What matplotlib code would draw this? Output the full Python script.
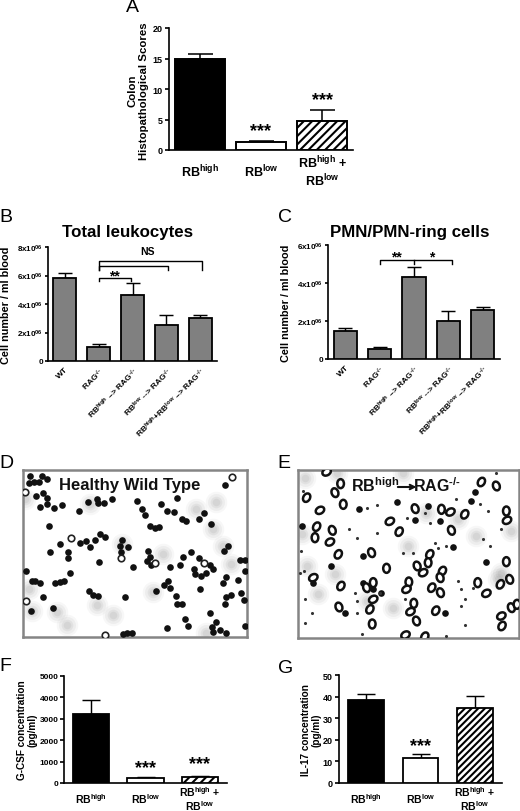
import matplotlib
matplotlib.use("Agg")
import matplotlib.pyplot as plt
from matplotlib.patches import Ellipse

plt.rcParams["font.family"] = ["Liberation Sans", "DejaVu Sans"]
plt.rcParams["font.weight"] = "bold"
plt.rcParams["mathtext.fontset"] = "custom"
plt.rcParams["mathtext.bf"] = "Liberation Sans:bold"
plt.rcParams["mathtext.rm"] = "Liberation Sans:bold"
plt.rcParams["mathtext.default"] = "bf"
plt.rcParams["hatch.linewidth"] = 1.5

W, H = 520, 812

# bar values
scores = [14.9, 1.3, 4.8]
scores_err = [0.8, 0.2, 1.8]
leuko = [5.85e6, 1.0e6, 4.65e6, 2.55e6, 3.03e6]
leuko_err = [0.3e6, 0.2e6, 0.8e6, 0.65e6, 0.17e6]
pmn = [1.5e6, 0.55e6, 4.3e6, 2.0e6, 2.6e6]
pmn_err = [0.12e6, 0.07e6, 0.52e6, 0.52e6, 0.15e6]
gcsf = [3230, 240, 300]
gcsf_err = [670, 30, 50]
il17 = [38.2, 11.5, 34.8]
il17_err = [2.8, 1.7, 5.5]

group_labels = ["RB$^{high}$", "RB$^{low}$", "RB$^{high}$ +\nRB$^{low}$"]
transfer_labels = ["WT", "RAG$^{\u2010/\u2010}$", "RB$^{high}$ --> RAG$^{\u2010/\u2010}$",
                   "RB$^{low}$ --> RAG$^{\u2010/\u2010}$",
                   "RB$^{high}$+RB$^{low}$ --> RAG$^{\u2010/\u2010}$"]
cell_ticks = [0, 2e6, 4e6, 6e6, 8e6]
cell_ticklabels = ["0", "2x10$^{06}$", "4x10$^{06}$", "6x10$^{06}$", "8x10$^{06}$"]

# micrograph marks, in the crop units of the picture
d_dots = [(90,80),(85,100),(100,97),(115,97),(125,80),(140,88),(108,140),(127,132),(140,145),
          (140,165),(120,175),(160,178),(185,168),(235,185),(265,158),(290,150),(295,162),(312,162),
          (336,150),(410,156),(425,180),(435,197),(482,166),(502,185),(523,188),(530,148),(545,210),
          (558,215),(598,211),(612,192),(634,226),(145,231),(450,232),(465,238),(476,235),(300,255),
          (315,265),(284,272),(258,275),(240,282),(270,295),(180,286),(150,310),(203,310),(203,328),
          (365,272),(360,292),(385,295),(362,310),(296,341),(400,356),(443,306),(450,324),(440,338),
          (452,350),(509,355),(540,348),(548,325),(574,310),(597,328),(583,360),(585,377),(604,382),
          (618,372),(640,360),(630,350),(684,290),(672,305),(720,333),(735,333),(735,368),(680,386),
          (670,402),(716,394),(208,373),(95,397),(105,397),(120,402),(165,403),(178,400),(192,396),
          (127,444),(266,427),(280,438),(295,443),(374,444),(468,428),(492,410),(503,397),(510,417),
          (527,441),(600,420),(530,465),(545,466),(675,465),(680,445),(693,438),(725,432),(733,455),
          (92,488),(158,478),(632,495),(648,521),(555,513),(563,533),(500,540),(636,537),(640,552),
          (660,546),(678,555),(735,532),(370,556),(382,553),(396,555),(78,368),(676,106)]
d_rings = [(697,82),(212,268),(362,328),(465,344),(612,342),(78,456),(75,128),(315,560)]
d_blots = [(85,420),(200,530),(290,470),(340,500),(490,315),(460,430),(640,240),(670,290),
           (695,345),(650,160),(590,180),(270,165),(95,488),(170,490),(365,285),(620,555),(75,150)]

e_rings = [(140,145),(225,130),(250,165),(180,183),(170,232),(217,243),(165,265),(210,278),(235,315),
           (335,310),(380,357),(390,216),(418,247),(466,178),(545,180),(572,188),(615,195),(575,243),
           (740,185),(742,213),(665,98),(710,110),(242,103),(200,68),(510,315),(472,350),(505,340),
           (490,370),(548,365),(541,385),(447,398),(440,420),(516,415),(542,430),(654,400),(680,432),
           (722,405),(750,390),(740,337),(160,385),(243,410),(320,415),(340,400),(340,450),(330,480),
           (237,473),(462,462),(452,487),(528,484),(470,515),(337,524),(725,500),(727,530),(755,475),
           (772,465),(437,557),(495,562)]
ring_tilts = [30, -20, 0, 60]
e_dots = [(296,178),(505,170),(410,158),(465,213),(541,214),(645,128),(635,155),(580,294),(680,337),
          (212,350),(310,320),(310,402),(338,420),(255,490),(555,490),(125,230),(362,432),(160,400)]
e_specks = [(350,168),(320,175),(495,190),(510,222),(440,205),(350,250),(268,240),(290,265),(430,310),
            (460,310),(535,295),(527,280),(690,290),(670,270),(725,240),(122,305),(132,365),(640,415),
            (615,450),(285,430),(290,455),(360,430),(435,450),(155,490),(135,520),(290,492),(617,528),
            (560,560),(605,470),(560,290),(685,185),(595,395),(605,420),(660,165),(590,150),(130,125),
            (120,370),(135,450),(305,555),(710,70)]
e_blots = [(650,260),(755,245),(125,255),(140,350),(225,375),(175,435),(320,455),(725,370),(595,210),
           (500,190),(135,85),(400,475),(715,390),(445,290),(230,70),(430,70)]

fig = plt.figure(figsize=(W / 100, H / 100), dpi=100)


def make_axes(left, right, top, bottom):
    return fig.add_axes([left / W, 1 - bottom / H, (right - left) / W, (bottom - top) / H])


def put(x, y, s, **kw):
    fig.text(x / W, 1 - y / H, s, ha="center", va="center", **kw)


def bars(ax, vals, errs, width, colors, hatches, capsize, lw):
    xs = list(range(len(vals)))
    ax.bar(xs, vals, width=width, color=colors, edgecolor="black", linewidth=lw, hatch=hatches, zorder=3)
    ax.errorbar(xs, vals, yerr=[[0] * len(vals), errs], fmt="none", ecolor="black",
                elinewidth=lw * 0.8, capsize=capsize, capthick=lw * 0.8, zorder=2)
    ax.set_xlim(-0.5, len(vals) - 0.5)
    for side in ["top", "right"]:
        ax.spines[side].set_visible(False)
    for side in ["left", "bottom"]:
        ax.spines[side].set_linewidth(1.2)
    ax.set_xticks(xs)
    ax.tick_params(axis="y", length=3, width=1.2, labelsize=6.5, pad=1.5)
    ax.tick_params(axis="x", length=0)


def bracket(ax, x0, x1, y, tip):
    ax.plot([x0, x0, x1, x1], [tip, y, y, tip], color="black", lw=1.0, clip_on=False, zorder=4)


group_colors = ["black", "white", "white"]

# A
ax = make_axes(169, 353, 29, 151)
bars(ax, scores, scores_err, 0.81, group_colors, [None, None, "////"], 9, 1.4)
ax.set_ylim(0, 20)
ax.set_yticks([0, 5, 10, 15, 20])
ax.set_xticklabels(group_labels, fontsize=9, linespacing=1.1, va="center")
ax.tick_params(axis="x", pad=15)
put(138.5, 91, "Colon\nHistopathological Scores", fontsize=8.2, rotation=90, linespacing=1.15)
ax.text(1, 3.1, "***", ha="center", va="center", fontsize=13)
ax.text(2, 8.2, "***", ha="center", va="center", fontsize=13)

# B
ax = make_axes(48, 217, 248, 362)
bars(ax, leuko, leuko_err, 0.68, "#808080", None, 4.7, 1.3)
ax.set_ylim(0, 8e6)
ax.set_yticks(cell_ticks)
ax.set_yticklabels(cell_ticklabels, fontsize=5.8)
ax.tick_params(axis="y", length=2.5, pad=1)
ax.set_xticklabels(transfer_labels, fontsize=6, rotation=45, ha="right", rotation_mode="anchor")
ax.tick_params(axis="x", pad=3)
put(6, 305, "Cell number / ml blood", fontsize=7.8, rotation=90)
bracket(ax, 1, 1.95, 5.84e6, 5.6e6)
bracket(ax, 1, 3.05, 6.68e6, 6.4e6)
bracket(ax, 1, 4.05, 7.02e6, 6.4e6)
ax.text(1.47, 6.0e6, "**", ha="center", va="center", fontsize=10)
ax.text(2.43, 7.7e6, "NS", ha="center", va="center", fontsize=7.5)
put(128, 232, "Total leukocytes", fontsize=12.2)

# C
ax = make_axes(328, 500, 246, 360)
bars(ax, pmn, pmn_err, 0.68, "#808080", None, 4.7, 1.3)
ax.set_ylim(0, 6e6)
ax.set_yticks(cell_ticks[:4])
ax.set_yticklabels(cell_ticklabels[:4], fontsize=5.8)
ax.tick_params(axis="y", length=2.5, pad=1)
ax.set_xticklabels(transfer_labels, fontsize=6, rotation=45, ha="right", rotation_mode="anchor")
ax.tick_params(axis="x", pad=3)
put(286, 303, "Cell number / ml blood", fontsize=7.8, rotation=90)
bracket(ax, 1.02, 3.1, 5.2e6, 5.0e6)
ax.plot([2, 2], [5.0e6, 5.2e6], color="black", lw=1.0)
ax.text(1.5, 5.4e6, "**", ha="center", va="center", fontsize=10)
ax.text(2.52, 5.4e6, "*", ha="center", va="center", fontsize=10)
put(410, 232, "PMN/PMN-ring cells", fontsize=12.2)

# D and E, the two micrographs
for box, dots, rings, blots, specks in [
        ((23, 247, 471, 638), d_dots, [], d_blots, d_rings),
        ((298, 519, 471, 639), e_dots, e_rings, e_blots, e_specks)]:
    ax = make_axes(*box)
    if box[0] == 23:
        ax.set_xlim(68, 742)
    else:
        ax.set_xlim(114, 778)
    ax.set_ylim(566, 62)
    ax.set_xticks([])
    ax.set_yticks([])
    for side in ax.spines.values():
        side.set_color("#858585")
        side.set_linewidth(1.8)
    bx, by = zip(*blots)
    for size, alpha in [(240, 0.05), (150, 0.07), (70, 0.09), (30, 0.1)]:
        ax.scatter(bx, by, s=size, color="#707070", alpha=alpha, linewidths=0, zorder=1)
    dx, dy = zip(*dots)
    ax.scatter(dx, dy, s=23, color="#111111", linewidths=0, zorder=3)
    for i, xy in enumerate(rings):
        ax.add_patch(Ellipse(xy, 20, 27, angle=ring_tilts[i % 4], facecolor="white",
                             edgecolor="#111111", lw=1.8, zorder=3))
    sx, sy = zip(*specks)
    if box[0] == 23:
        ax.scatter(sx, sy, s=22, facecolor="white", edgecolor="#222222", linewidths=1.2, zorder=3)
        ax.text(390, 107, "Healthy Wild Type", ha="center", va="center", fontsize=12, color="#111111", zorder=5)
    else:
        ax.scatter(sx, sy, s=5, color="#333333", linewidths=0, zorder=3)
        ax.text(347, 105, "RB$^{high}$", ha="center", va="center", fontsize=11.5, color="#111111", zorder=5)
        ax.text(530, 105, "RAG$^{\u2010/\u2010}$", ha="center", va="center", fontsize=11.5,
                color="#111111", zorder=5)
        ax.annotate("", xy=(470, 113), xytext=(414, 113), zorder=5,
                    arrowprops=dict(arrowstyle="->", color="#111111", lw=1.5, mutation_scale=8,
                                    shrinkA=0, shrinkB=0))

# F
ax = make_axes(64, 227, 677, 784)
bars(ax, gcsf, gcsf_err, 0.67, group_colors, [None, None, "////"], 6.7, 1.3)
ax.set_ylim(0, 5000)
ax.set_yticks([0, 1000, 2000, 3000, 4000, 5000])
ax.tick_params(axis="y", labelsize=6, pad=1)
ax.set_xticklabels(group_labels, fontsize=7.5, linespacing=1.05, va="center")
ax.tick_params(axis="x", pad=11)
put(27, 730, "G-CSF concentration\n(pg/ml)", fontsize=7.2, rotation=90, linespacing=1.05)
ax.text(1, 700, "***", ha="center", va="center", fontsize=13)
ax.text(2, 900, "***", ha="center", va="center", fontsize=13)

# G
ax = make_axes(339, 502, 676, 784)
bars(ax, il17, il17_err, 0.66, group_colors, [None, None, "/////"], 6.7, 1.3)
ax.set_ylim(0, 50)
ax.set_yticks([0, 10, 20, 30, 40, 50])
ax.set_xticklabels(group_labels, fontsize=7.5, linespacing=1.05, va="center")
ax.tick_params(axis="x", pad=11)
put(311, 730, "IL-17 concentration\n(pg/ml)", fontsize=7.2, rotation=90, linespacing=1.05)
ax.text(1, 17.5, "***", ha="center", va="center", fontsize=13)

# panel letters
for letter, x, y in [("A", 132, 8), ("B", 6, 218), ("C", 285, 218), ("D", 6, 463),
                     ("E", 284, 464), ("F", 5, 667), ("G", 286, 669)]:
    put(x, y, letter, fontsize=14, fontweight="normal")

fig.savefig("out.png", dpi=100)
